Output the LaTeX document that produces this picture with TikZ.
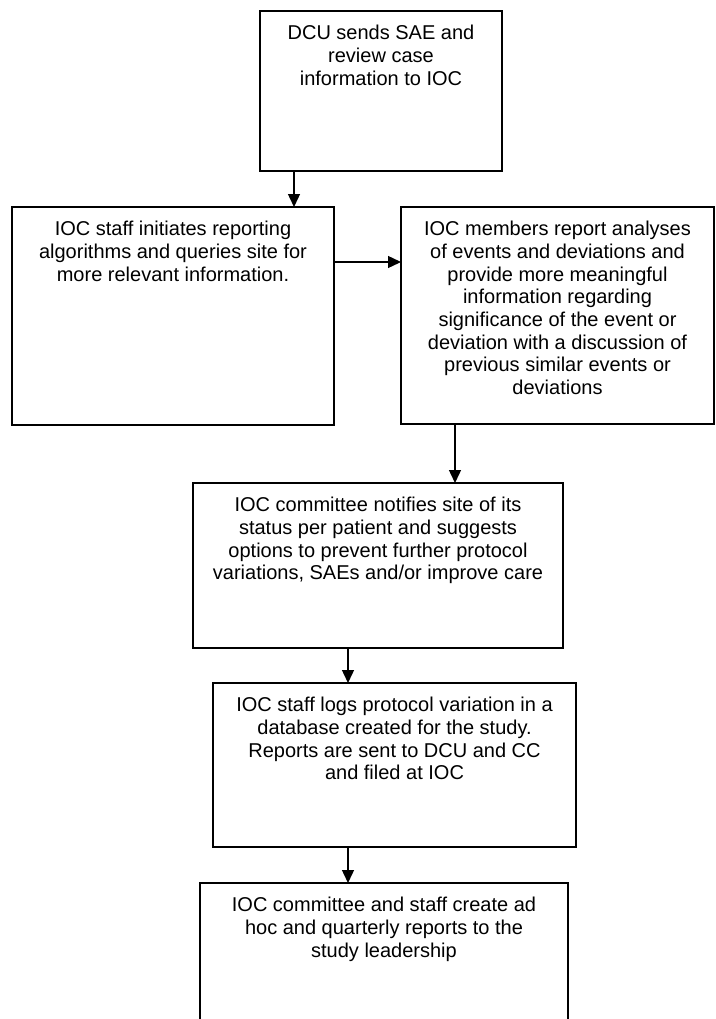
\documentclass[tikz,border=0pt]{standalone}
\usepackage{fontspec}
\setmainfont{Liberation Sans}
\usetikzlibrary{arrows.meta}

\tikzset{
  box/.style={draw, line width=1.8pt, outer sep=0pt, inner sep=0pt, anchor=north west},
  txt/.style={anchor=north, align=center, inner sep=0pt, font=\fontsize{20}{22.7}\selectfont},
  arr/.style={line width=1.4pt, -{Triangle[length=13pt,width=12pt]}}
}

\begin{document}
\begin{tikzpicture}[x=1pt,y=-1pt]
    \useasboundingbox (0,0) rectangle (715,1019);
    \clip (0,0) rectangle (715,1019);
    % ---- boxes (top-left corner, size) ----
    \node[box, minimum width=242pt, minimum height=160pt] (dcu)     at (260,11)  {};
    \node[box, minimum width=322pt, minimum height=218pt] (staff)   at (12,207)  {};
    \node[box, minimum width=313pt, minimum height=217pt] (members) at (401,207) {};
    \node[box, minimum width=370pt, minimum height=165pt] (notify)  at (193,483) {};
    \node[box, minimum width=363pt, minimum height=164pt] (logs)    at (213,683) {};
    \node[box, minimum width=368pt, minimum height=200pt] (report)  at (200,883) {};
    % ---- texts, hung from the top of each box ----
    \node[txt] (dcu-t)     at ([yshift=-14pt]dcu.north)
      {DCU sends SAE and\\review case\\information to IOC};
    \node[txt] (staff-t)   at ([yshift=-14pt]staff.north)
      {IOC staff initiates reporting\\algorithms and queries site for\\more relevant information.};
    \node[txt] (members-t) at ([yshift=-14pt]members.north)
      {IOC members report analyses\\of events and deviations and\\provide more meaningful\\information regarding\\significance of the event or\\deviation with a discussion of\\previous similar events or\\deviations};
    \node[txt] (notify-t)  at ([yshift=-14pt]notify.north)
      {IOC committee notifies site of its\\status per patient and suggests\\options to prevent further protocol\\variations, SAEs and/or improve care};
    \node[txt] (logs-t)    at ([yshift=-14pt]logs.north)
      {IOC staff logs protocol variation in a\\database created for the study.\\Reports are sent to DCU and CC\\and filed at IOC};
    \node[txt] (report-t)  at ([yshift=-14pt]report.north)
      {IOC committee and staff create ad\\hoc and quarterly reports to the\\study leadership};
    % ---- arrows ----
    \draw[arr] ([xshift=34pt]dcu.south west) -- ([xshift=34pt]dcu.south west |- staff.north);
    \draw[arr] ([yshift=-55pt]staff.north east) -- ([yshift=-55pt]staff.north east -| members.west);
    \draw[arr] ([xshift=54pt]members.south west) -- ([xshift=54pt]members.south west |- notify.north);
    \draw[arr] ([xshift=155pt]notify.south west) -- ([xshift=155pt]notify.south west |- logs.north);
    \draw[arr] ([xshift=135pt]logs.south west) -- ([xshift=135pt]logs.south west |- report.north);
\end{tikzpicture}
\end{document}
